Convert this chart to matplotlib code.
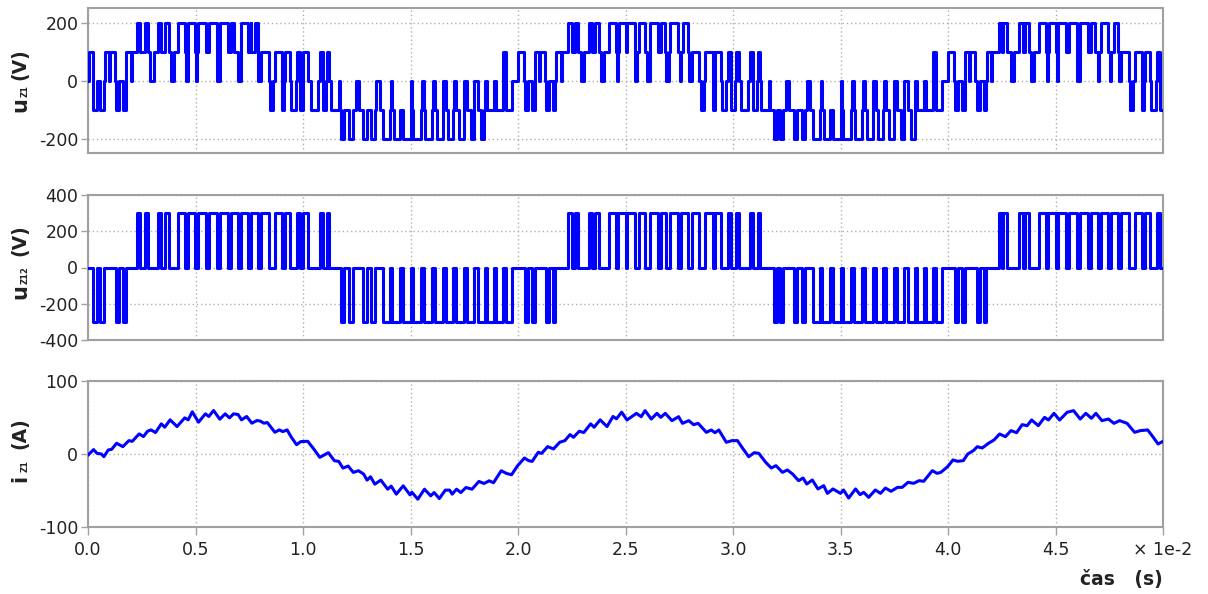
import numpy as np
import matplotlib
matplotlib.use("Agg")
import matplotlib.pyplot as plt

# ---------------- data (time in units of 1e-2 s) ----------------
T_END = 5.0

# u_Z12 : line voltage pulses (+300 V / -300 V)
uz12_pos = [
    (0.227, 0.242), (0.263, 0.278), (0.324, 0.341), (0.358, 0.375), (0.419, 0.453),
    (0.464, 0.499), (0.513, 0.549), (0.562, 0.598), (0.614, 0.651), (0.663, 0.697),
    (0.710, 0.745), (0.758, 0.792), (0.806, 0.840), (0.868, 0.902), (0.914, 0.940),
    (0.973, 0.987), (1.002, 1.022), (1.081, 1.094), (1.110, 1.123),
    (2.233, 2.249), (2.266, 2.281), (2.328, 2.346), (2.360, 2.378), (2.421, 2.456),
    (2.466, 2.501), (2.508, 2.542), (2.562, 2.592), (2.616, 2.651), (2.663, 2.689),
    (2.709, 2.744), (2.756, 2.790), (2.810, 2.844), (2.872, 2.906), (2.918, 2.945),
    (2.975, 2.990), (3.012, 3.028), (3.081, 3.093), (3.115, 3.127),
    (4.235, 4.251), (4.258, 4.274), (4.328, 4.347), (4.358, 4.379), (4.421, 4.455),
    (4.466, 4.501), (4.513, 4.549), (4.562, 4.598), (4.614, 4.651), (4.663, 4.697),
    (4.710, 4.745), (4.758, 4.792), (4.806, 4.840), (4.868, 4.902), (4.914, 4.940),
    (4.973, 4.987),
]
uz12_neg = [
    (0.024, 0.042), (0.058, 0.076), (0.130, 0.142), (0.164, 0.176),
    (1.178, 1.193), (1.216, 1.231), (1.281, 1.298), (1.316, 1.333), (1.371, 1.405),
    (1.416, 1.451), (1.464, 1.500), (1.513, 1.549), (1.563, 1.600), (1.613, 1.649),
    (1.663, 1.698), (1.712, 1.747), (1.761, 1.796), (1.814, 1.848), (1.858, 1.888),
    (1.896, 1.929), (1.943, 1.972), (2.031, 2.047), (2.063, 2.080), (2.129, 2.143),
    (2.161, 2.174),
    (3.190, 3.204), (3.220, 3.234), (3.283, 3.298), (3.320, 3.337), (3.371, 3.405),
    (3.416, 3.451), (3.464, 3.500), (3.513, 3.549), (3.563, 3.600), (3.613, 3.649),
    (3.663, 3.698), (3.712, 3.747), (3.761, 3.796), (3.814, 3.848), (3.858, 3.888),
    (3.896, 3.929), (3.943, 3.972), (4.031, 4.047), (4.063, 4.080), (4.133, 4.147),
    (4.166, 4.179),
]

# second line-voltage component of the 5-level u_Z1 trace (u_Z1 = (u12 + u13) / 3),
# inferred from the levels seen in the top trace
uz13_pos = [
    (0.004, 0.024), (0.080, 0.097), (0.104, 0.127), (0.178, 0.199), (0.204, 0.290),
    (0.305, 0.385), (0.398, 0.457), (0.466, 0.504), (0.508, 0.600), (0.612, 0.680),
    (0.712, 0.760), (0.775, 0.790),
    (1.930, 1.942), (2.000, 2.026), (2.081, 2.097), (2.104, 2.127), (2.178, 2.199),
    (2.204, 2.292), (2.305, 2.388), (2.401, 2.459), (2.469, 2.545), (2.555, 2.600),
    (2.613, 2.684), (2.702, 2.752), (2.768, 2.794),
    (3.930, 3.942), (4.000, 4.026), (4.081, 4.097), (4.104, 4.127), (4.181, 4.200),
    (4.204, 4.292), (4.306, 4.388), (4.400, 4.459), (4.468, 4.506), (4.510, 4.602),
    (4.613, 4.682), (4.703, 4.755), (4.770, 4.794),
]
uz13_neg = [
    (0.845, 0.862), (0.903, 0.913), (0.946, 0.967), (0.988, 1.001), (1.036, 1.072),
    (1.095, 1.109), (1.131, 1.167), (1.172, 1.245), (1.262, 1.340), (1.356, 1.410),
    (1.422, 1.502), (1.509, 1.553), (1.566, 1.604), (1.622, 1.650), (1.676, 1.700),
    (1.725, 1.747), (1.780, 1.796), (1.826, 1.841),
    (2.850, 2.866), (2.907, 2.917), (2.949, 2.968), (2.992, 3.010), (3.036, 3.072),
    (3.095, 3.113), (3.131, 3.167), (3.172, 3.245), (3.262, 3.342), (3.356, 3.410),
    (3.422, 3.502), (3.509, 3.553), (3.566, 3.604), (3.622, 3.650), (3.676, 3.700),
    (3.725, 3.747), (3.780, 3.796), (3.826, 3.846),
    (4.845, 4.862), (4.903, 4.913), (4.946, 4.968), (4.988, 5.000),
]

# i_Z1 current, vertices
iz1_t = [0.002, 0.026, 0.042, 0.062, 0.074, 0.094, 0.110, 0.133, 0.162, 0.190, 0.206, 0.238,
         0.258, 0.277, 0.293, 0.314, 0.341, 0.357, 0.382, 0.414, 0.450, 0.466, 0.485, 0.514,
         0.546, 0.562, 0.584, 0.613, 0.638, 0.658, 0.677, 0.698, 0.714, 0.738, 0.762, 0.786,
         0.802, 0.818, 0.834, 0.869, 0.890, 0.906, 0.926, 0.946, 0.970, 0.990, 1.022, 1.050,
         1.078, 1.118, 1.146, 1.166, 1.186, 1.210, 1.234, 1.258, 1.282, 1.298, 1.314, 1.334,
         1.362, 1.394, 1.410, 1.434, 1.466, 1.498, 1.506, 1.534, 1.565, 1.594, 1.610, 1.634,
         1.662, 1.682, 1.694, 1.714, 1.734, 1.758, 1.786, 1.818, 1.842, 1.866, 1.886, 1.922,
         1.946, 1.970, 1.998, 2.030, 2.050, 2.066, 2.094, 2.110, 2.138, 2.165, 2.194, 2.218,
         2.242, 2.258, 2.285, 2.306, 2.338, 2.354, 2.382, 2.414, 2.442, 2.458, 2.482,
         2.507, 2.551, 2.573, 2.591, 2.620, 2.646, 2.664, 2.685, 2.716, 2.747, 2.765, 2.794,
         2.817, 2.838, 2.876, 2.899, 2.916, 2.934, 2.969, 2.995, 3.021, 3.044, 3.073, 3.099,
         3.120, 3.152, 3.178, 3.200, 3.230, 3.253, 3.277, 3.305, 3.326, 3.343, 3.369, 3.395,
         3.422, 3.439, 3.465, 3.500, 3.514, 3.538, 3.570, 3.591, 3.608, 3.631, 3.662, 3.686,
         3.709, 3.735, 3.765, 3.787, 3.814, 3.840, 3.866, 3.887, 3.927, 3.949, 3.967, 3.998,
         4.023, 4.045, 4.071, 4.092, 4.118, 4.136, 4.159, 4.188, 4.214, 4.240, 4.267, 4.293,
         4.319, 4.345, 4.368, 4.389, 4.420, 4.449, 4.467, 4.493, 4.519, 4.554, 4.584, 4.615,
         4.641, 4.667, 4.688, 4.716, 4.746, 4.772, 4.798, 4.833, 4.868, 4.894, 4.929, 4.955,
         4.977, 5.000]
iz1_v = [-0.9, 6.0, 0.9, 0.0, -3.7, 5.5, 6.4, 14.7, 10.1, 18.3, 17.4, 27.5,
         23.9, 31.2, 33.0, 29.4, 41.3, 36.7, 46.8, 37.6, 49.5, 46.8, 57.8, 43.6,
         55.0, 51.4, 59.6, 47.7, 55.0, 49.5, 55.0, 54.1, 46.8, 51.4, 42.2, 45.9,
         45.0, 42.2, 43.1, 29.8, 33.0, 30.7, 33.0, 22.9, 12.8, 17.0, 17.4, 6.9,
         -4.6, 1.8, -9.2, -10.1, -19.3, -16.5, -25.2, -22.9, -27.5, -35.8, -31.2, -41.3,
         -35.8, -48.2, -44.0, -55.0, -43.6, -56.0, -52.3, -61.9, -48.2, -57.3, -52.8, -61.0,
         -49.5, -49.5, -55.0, -48.2, -52.8, -45.9, -48.2, -37.6, -40.4, -36.7, -39.4, -22.9,
         -26.6, -28.4, -16.1, -5.5, -9.2, -10.1, 2.3, 0.9, 10.1, 6.9, 16.1, 18.3,
         26.6, 22.9, 31.2, 29.4, 41.3, 36.7, 46.8, 37.6, 51.4, 48.2, 57.3,
         46.6, 55.7, 51.1, 59.4, 47.9, 55.7, 50.2, 55.7, 45.7, 51.1, 42.0, 45.7,
         40.2, 42.0, 29.7, 32.9, 29.2, 32.9, 16.0, 18.3, 18.3, 8.2, -3.7, 1.8,
         0.9, -11.4, -19.2, -16.0, -25.1, -21.9, -27.4, -36.5, -32.9, -41.1, -35.6, -47.9,
         -43.4, -53.9, -47.9, -53.9, -49.3, -60.3, -47.9, -55.7, -52.5, -59.4, -49.3, -53.9,
         -46.6, -51.1, -45.7, -45.7, -38.8, -40.2, -36.5, -37.4, -22.8, -26.5, -25.1, -17.4,
         -8.2, -10.0, -9.1, 0.0, 4.6, 10.0, 8.2, 14.6, 19.2, 27.4, 23.7, 32.0,
         29.2, 40.2, 38.8, 46.6, 38.8, 50.2, 46.6, 55.7, 46.6, 57.1, 59.4, 47.9,
         55.7, 48.9, 55.7, 45.7, 47.9, 42.0, 45.7, 42.0, 29.7, 32.0, 32.9, 22.8,
         13.7, 17.4]

x_ticks = [0.0, 0.5, 1.0, 1.5, 2.0, 2.5, 3.0, 3.5, 4.0, 4.5, 5.0]
x_ticklabels = ["0.0", "0.5", "1.0", "1.5", "2.0", "2.5", "3.0", "3.5", "4.0", "4.5", "\u00d7 1e-2"]
y_ticks_u1 = [-200, 0, 200]
y_ticks_u12 = [-400, -200, 0, 200, 400]
y_ticks_i = [-100, 0, 100]

# ---------------- helpers ----------------
def breakpoints(*lists):
    b = {0.0, T_END}
    for L in lists:
        for s, e in L:
            b.add(s)
            b.add(e)
    return np.array(sorted(x for x in b if 0.0 <= x <= T_END))


def level(tm, pos, neg):
    v = np.zeros_like(tm)
    for s, e in pos:
        v += ((tm >= s) & (tm < e)).astype(float)
    for s, e in neg:
        v -= ((tm >= s) & (tm < e)).astype(float)
    return v


b12 = breakpoints(uz12_pos, uz12_neg)
m12 = 0.5 * (b12[:-1] + b12[1:])
v12 = 300.0 * level(m12, uz12_pos, uz12_neg)
v12 = np.append(v12, v12[-1])

b1 = breakpoints(uz12_pos, uz12_neg, uz13_pos, uz13_neg)
m1 = 0.5 * (b1[:-1] + b1[1:])
v1 = 100.0 * (level(m1, uz12_pos, uz12_neg) + level(m1, uz13_pos, uz13_neg))
v1 = np.append(v1, v1[-1])

# ---------------- figure ----------------
W, H = 1208, 594
plt.rcParams["font.family"] = ["DejaVu Sans"]
plt.rcParams["axes.unicode_minus"] = False
fig = plt.figure(figsize=(W / 100, H / 100), dpi=100)

left = 88 / W
width = 1075 / W
rects = [
    (left, 1 - 153 / H, width, 145 / H),
    (left, 1 - 340 / H, width, 145 / H),
    (left, 1 - 527 / H, width, 146 / H),
]
axes = [fig.add_axes(r) for r in rects]

BLUE = "#0000ff"
SPINE = "#a0a0a0"
GRID = "#b0b0b0"
TXT = "#222222"
LW = 2.2

axes[0].step(b1 * 1e-2, v1, where="post", color=BLUE, lw=LW, zorder=3)
axes[1].step(b12 * 1e-2, v12, where="post", color=BLUE, lw=LW, zorder=3)
axes[2].plot(np.array(iz1_t) * 1e-2, iz1_v, color=BLUE, lw=LW, zorder=3)

axes[0].set_ylim(-250, 250)
axes[0].set_yticks(y_ticks_u1)
axes[1].set_ylim(-400, 400)
axes[1].set_yticks(y_ticks_u12)
axes[2].set_ylim(-100, 100)
axes[2].set_yticks(y_ticks_i)

for k, ax in enumerate(axes):
    ax.set_xlim(0, 0.05)
    ax.set_xticks(np.array(x_ticks) * 1e-2)
    ax.grid(True, linestyle=(0, (1, 2)), color=GRID, linewidth=1.0, zorder=0)
    for sp in ax.spines.values():
        sp.set_color(SPINE)
        sp.set_linewidth(1.5)
    ax.tick_params(axis="y", direction="out", length=5, width=1, color=SPINE,
                   labelsize=12.5, labelcolor=TXT, pad=2)
    if k < 2:
        ax.tick_params(axis="x", length=0, labelbottom=False)
    else:
        ax.tick_params(axis="x", direction="out", length=6, width=1, color=SPINE,
                       labelsize=12.5, labelcolor=TXT, pad=4)
        ax.set_xticklabels(x_ticklabels)

# y labels: (main symbol, subscript, unit, y-centres in pixels from top)
ylabel_parts = [
    ("u", "Z1", "(V)", 105, 91, 64),
    ("u", "Z12", "(V)", 292, 275, 240),
    ("i", "Z1", "(A)", 478, 466, 433),
]
for sym, sub, unit, y_sym, y_sub, y_unit in ylabel_parts:
    fig.text(20 / W, 1 - y_sym / H, sym, rotation=90, ha="center", va="center",
             fontsize=15, fontweight="bold", color=TXT)
    fig.text(25 / W, 1 - y_sub / H, sub, rotation=90, ha="center", va="center",
             fontsize=6, fontweight="bold", color=TXT)
    fig.text(20 / W, 1 - y_unit / H, unit, rotation=90, ha="center", va="center",
             fontsize=13.5, fontweight="bold", color=TXT)

fig.text(1163 / W, 1 - 579 / H, "\u010das   (s)", ha="right", va="center",
         fontsize=13.5, fontweight="bold", color=TXT)

fig.savefig("out.png", dpi=100, facecolor="white")
